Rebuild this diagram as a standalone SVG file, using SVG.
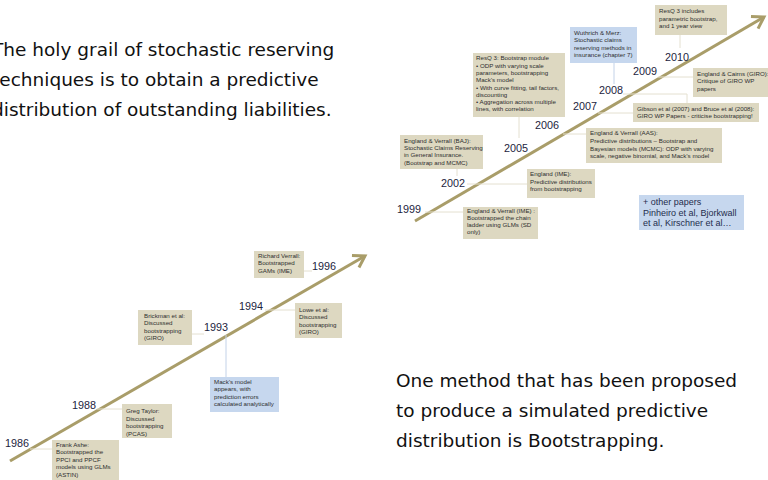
<svg xmlns="http://www.w3.org/2000/svg" width="768" height="480" viewBox="0 0 768 480">
<style>
.big{font-family:"DejaVu Sans",sans-serif;font-size:18.5px;fill:#111}
.yr{font-family:"Liberation Sans",Arial,sans-serif;font-size:10.8px;fill:#1c2440}
.bx{fill:#ddd8c1}
.bb{fill:#c6d7ee}
.t{font-family:"Liberation Sans",Arial,sans-serif;font-size:6.2px;fill:#2e2e2e}
.cn{stroke:#e4e0d0;stroke-width:1;fill:none}
.cb{stroke:#c3d2e8;stroke-width:1;fill:none}
.tl{stroke:#a99d69;stroke-width:3;fill:none}
.ot{font-family:"Liberation Sans",Arial,sans-serif;font-size:9px;fill:#1f2d4d}
</style>
<defs>
<marker id="chev" markerUnits="userSpaceOnUse" markerWidth="30" markerHeight="30" refX="0" refY="0" viewBox="-15 -15 30 30" orient="auto">
<path d="M -11 -7 L 0 0 L -11 7" stroke="#a99d69" stroke-width="3" fill="none"/>
</marker>
</defs>
<rect width="768" height="480" fill="#ffffff"/>

<g id="intro">
<text class="big" x="-8" y="56">The holy grail of stochastic reserving</text>
<text class="big" x="-8" y="86">techniques is to obtain a predictive</text>
<text class="big" x="-8" y="116">distribution of outstanding liabilities.</text>
</g>
<g id="method">
<text class="big" x="396" y="387">One method that has been proposed</text>
<text class="big" x="396" y="417">to produce a simulated predictive</text>
<text class="big" x="396" y="447">distribution is Bootstrapping.</text>
</g>

<g id="connectors">
<line class="tl" x1="10" y1="461" x2="365" y2="256" marker-end="url(#chev)"/>
<line class="tl" x1="415" y1="221" x2="764" y2="17" marker-end="url(#chev)"/>
<path class="cn" d="M30 449H52"/>
<path class="cn" d="M97 409H122"/>
<path class="cn" d="M192 334H204"/>
<path class="cb" d="M226 335V377"/>
<path class="cn" d="M265 310H295"/>
<path class="cn" d="M304 271H312"/>
<path class="cn" d="M425 212H463"/>
<path class="cn" d="M457 169V176"/>
<path class="cn" d="M467 184H527"/>
<path class="cn" d="M519 117V138"/>
<path class="cn" d="M563 134H586"/>
<path class="cn" d="M598 113H633"/>
<path class="cn" d="M623 94H687V103"/>
<path class="cb" d="M614 63V84"/>
<path class="cn" d="M658 77H693"/>
<path class="cn" d="M680 35V48"/>
</g>

<g id="years">
<text class="yr" x="5" y="447">1986</text>
<text class="yr" x="72" y="409">1988</text>
<text class="yr" x="204" y="331">1993</text>
<text class="yr" x="239" y="310">1994</text>
<text class="yr" x="312" y="270">1996</text>
<text class="yr" x="397" y="213">1999</text>
<text class="yr" x="441" y="187">2002</text>
<text class="yr" x="504" y="152">2005</text>
<text class="yr" x="535" y="129">2006</text>
<text class="yr" x="573" y="110">2007</text>
<text class="yr" x="599" y="94">2008</text>
<text class="yr" x="633" y="75">2009</text>
<text class="yr" x="665" y="61">2010</text>
</g>

<g id="ashe">
<rect class="bx" x="52" y="440" width="67" height="42"/>
<text class="t" x="56" y="446.7">Frank Ashe:</text>
<text class="t" x="56" y="454.2">Bootstrapped the</text>
<text class="t" x="56" y="461.7">PPCI and PPCF</text>
<text class="t" x="56" y="469.2">models using GLMs</text>
<text class="t" x="56" y="476.7">(ASTIN)</text>
</g>
<g id="taylor">
<rect class="bx" x="122" y="404" width="50" height="34"/>
<text class="t" x="126" y="413.3">Greg Taylor:</text>
<text class="t" x="126" y="420.8">Discussed</text>
<text class="t" x="126" y="428.3">bootstrapping</text>
<text class="t" x="126" y="435.8">(PCAS)</text>
</g>
<g id="brickman">
<rect class="bx" x="138" y="310" width="54" height="35"/>
<text class="t" x="144" y="317.5">Brickman et al:</text>
<text class="t" x="144" y="325">Discussed</text>
<text class="t" x="144" y="332.5">bootstrapping</text>
<text class="t" x="144" y="340">(GIRO)</text>
</g>
<g id="mack">
<rect class="bb" x="210" y="377" width="69" height="35"/>
<text class="t" x="214" y="383.5">Mack’s model</text>
<text class="t" x="214" y="391">appears, with</text>
<text class="t" x="214" y="398.5">prediction errors</text>
<text class="t" x="214" y="406">calculated analytically</text>
</g>
<g id="lowe">
<rect class="bx" x="295" y="303" width="47" height="35"/>
<text class="t" x="299" y="311.5">Lowe et al:</text>
<text class="t" x="299" y="319">Discussed</text>
<text class="t" x="299" y="326.5">bootstrapping</text>
<text class="t" x="299" y="334">(GIRO)</text>
</g>
<g id="verrall">
<rect class="bx" x="254" y="251" width="50" height="27"/>
<text class="t" x="258" y="257.5">Richard Verrall:</text>
<text class="t" x="258" y="265">Bootstrapped</text>
<text class="t" x="258" y="272.5">GAMs (IME)</text>
</g>

<g id="ev-ime">
<rect class="bx" x="463" y="207" width="75" height="32"/>
<text class="t" x="467" y="212.5">England &amp; Verrall (IME) :</text>
<text class="t" x="467" y="219.5">Bootstrapped the chain</text>
<text class="t" x="467" y="226.5">ladder using GLMs (SD</text>
<text class="t" x="467" y="233.5">only)</text>
</g>
<g id="ev-baj">
<rect class="bx" x="400" y="135" width="83" height="34"/>
<text class="t" x="404" y="142.7">England &amp; Verrall (BAJ):</text>
<text class="t" x="404" y="150">Stochastic Claims Reserving</text>
<text class="t" x="404" y="157.3">in General Insurance.</text>
<text class="t" x="404" y="164.6">(Bootstrap and MCMC)</text>
</g>
<g id="england-ime">
<rect class="bx" x="527" y="169" width="68" height="29"/>
<text class="t" x="530" y="176.3">England (IME):</text>
<text class="t" x="530" y="183.6">Predictive distributions</text>
<text class="t" x="530" y="190.9">from bootstrapping</text>
</g>
<g id="resq3">
<rect class="bx" x="473" y="53" width="92" height="64"/>
<text class="t" x="476" y="60.3">ResQ 3: Bootstrap module</text>
<text class="t" x="476" y="67.6">• ODP with varying scale</text>
<text class="t" x="476" y="74.9">parameters, bootstrapping</text>
<text class="t" x="476" y="82.2">Mack’s model</text>
<text class="t" x="476" y="89.5">• With curve fitting, tail factors,</text>
<text class="t" x="476" y="96.8">discounting</text>
<text class="t" x="476" y="104.1">• Aggregation across multiple</text>
<text class="t" x="476" y="111.4">lines, with correlation</text>
</g>
<g id="ev-aas">
<rect class="bx" x="586" y="128" width="136" height="35"/>
<text class="t" x="590" y="135.3">England &amp; Verrall (AAS):</text>
<text class="t" x="590" y="143">Predictive distributions – Bootstrap and</text>
<text class="t" x="590" y="150.7">Bayesian models (MCMC): ODP with varying</text>
<text class="t" x="590" y="158.4">scale, negative binomial, and Mack’s model</text>
</g>
<g id="gibson">
<rect class="bx" x="633" y="103" width="126" height="19"/>
<text class="t" x="637" y="110.7">Gibson et al (2007) and Bruce et al (2008):</text>
<text class="t" x="637" y="117.7">GIRO WP Papers - criticise bootstrapping!</text>
</g>
<g id="wuthrich">
<rect class="bb" x="570" y="27" width="67" height="36"/>
<text class="t" x="574" y="35">Wuthrich &amp; Merz:</text>
<text class="t" x="574" y="42.4">Stochastic claims</text>
<text class="t" x="574" y="49.8">reserving methods in</text>
<text class="t" x="574" y="57.2">insurance (chapter 7)</text>
</g>
<g id="cairns">
<rect class="bx" x="693" y="68" width="76" height="29"/>
<text class="t" x="697" y="76">England &amp; Cairns (GIRO):</text>
<text class="t" x="697" y="83.4">Critique of GIRO WP</text>
<text class="t" x="697" y="90.8">papers</text>
</g>
<g id="resq3-1yr">
<rect class="bx" x="655" y="5" width="72" height="30"/>
<text class="t" x="659" y="13.3">ResQ 3 includes</text>
<text class="t" x="659" y="20.8">parametric bootstrap,</text>
<text class="t" x="659" y="28.3">and 1 year view</text>
</g>
<g id="other">
<rect class="bb" x="639" y="195" width="105" height="35"/>
<text class="ot" x="643" y="205">+ other papers</text>
<text class="ot" x="643" y="215.5">Pinheiro et al, Bjorkwall</text>
<text class="ot" x="643" y="226">et al, Kirschner et al…</text>
</g>
</svg>
